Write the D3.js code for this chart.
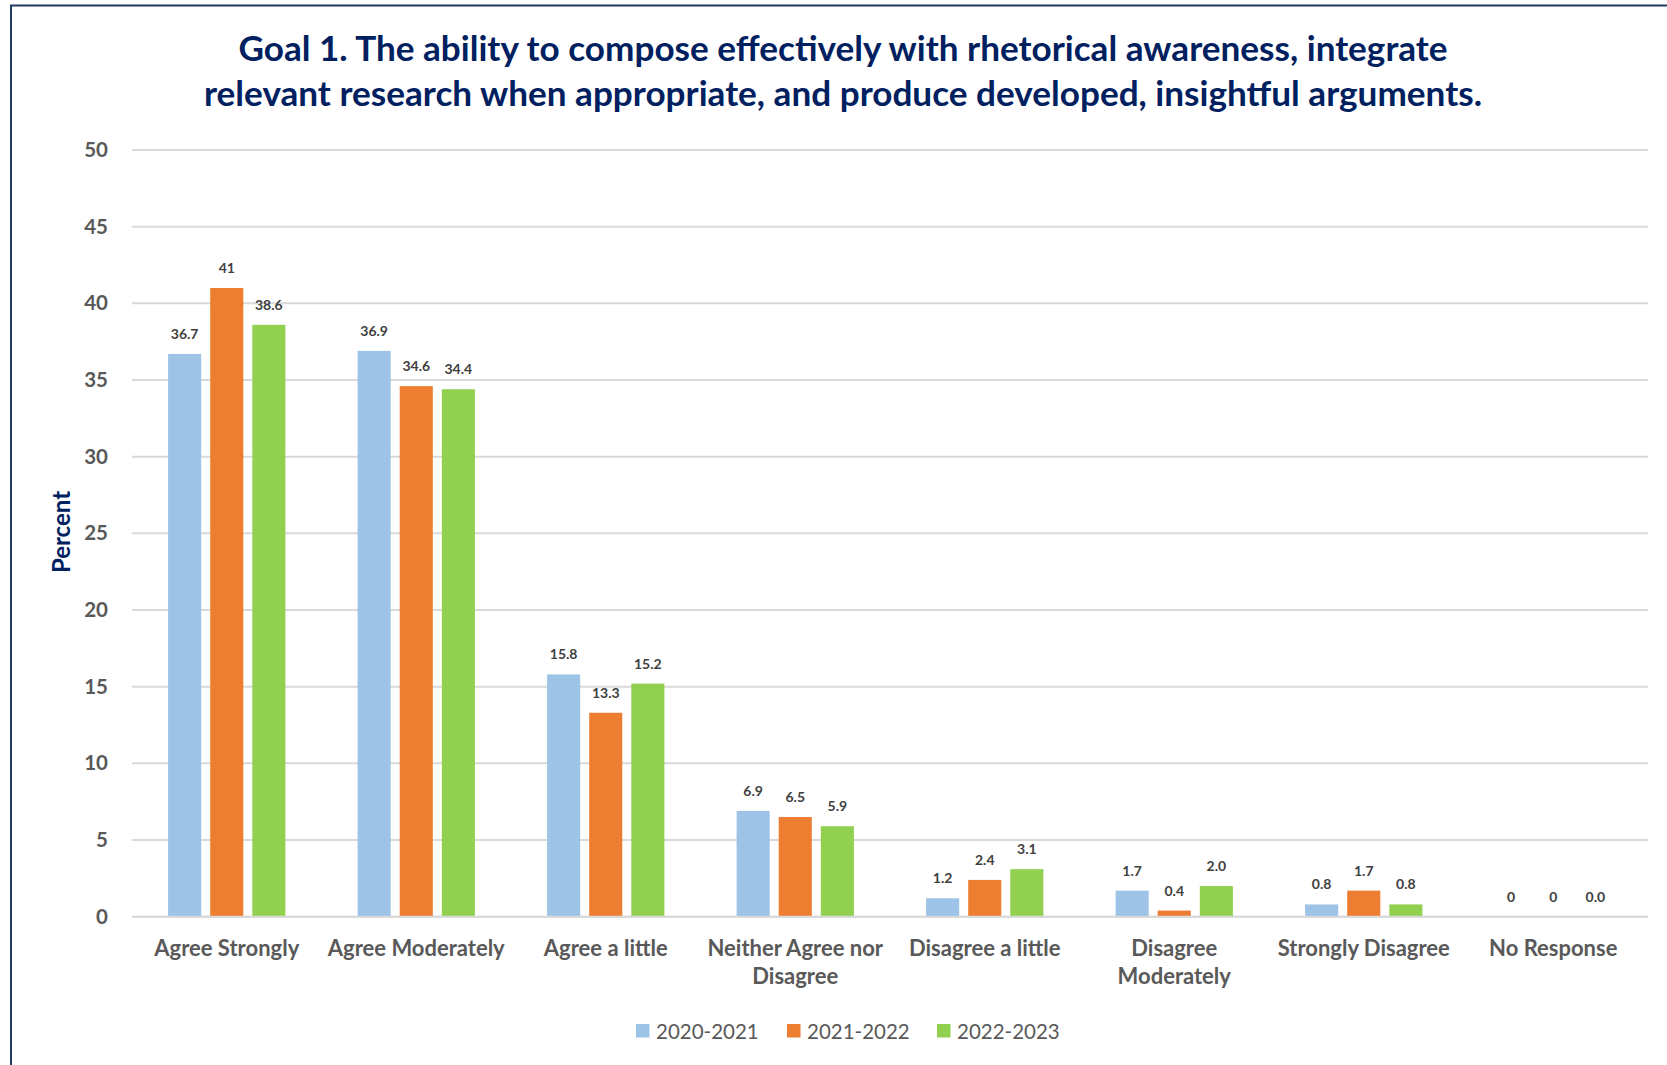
<!DOCTYPE html>
<html>
<head>
<meta charset="utf-8">
<script src="https://cdn.jsdelivr.net/npm/d3@7"></script>
<style>
  html, body { margin: 0; padding: 0; background: #fff; }
  svg { display: block; font-family: Lato, "Open Sans", sans-serif; }
</style>
</head>
<body>
<svg id="chart" width="1667" height="1065"></svg>
<script>
const categories = ["Agree Strongly", "Agree Moderately", "Agree a little", "Neither Agree nor Disagree",
  "Disagree a little", "Disagree Moderately", "Strongly Disagree", "No Response"];
const seriesNames = ["2020-2021", "2021-2022", "2022-2023"];
const values2020 = [36.7, 36.9, 15.8, 6.9, 1.2, 1.7, 0.8, 0];
const values2021 = [41, 34.6, 13.3, 6.5, 2.4, 0.4, 1.7, 0];
const values2022 = [38.6, 34.4, 15.2, 5.9, 3.1, 2.0, 0.8, 0.0];
const yTicks = [0, 5, 10, 15, 20, 25, 30, 35, 40, 45, 50];
const titleLines = ["Goal 1. The ability to compose effectively with rhetorical awareness, integrate",
  "relevant research when appropriate, and produce developed, insightful arguments."];
const yAxisTitle = "Percent";

const colors = ["#9DC3E6", "#ED7D31", "#92D050"];
const labelFormats = [d => String(d), d => String(d), d3.format(".1f")];
const seriesValues = [values2020, values2021, values2022];

const svg = d3.select("#chart");
const plot = { left: 132, right: 1648, top: 150, bottom: 916.7 };

const x0 = d3.scaleBand().domain(categories).range([plot.left, plot.right]).padding(0);
const bw = x0.bandwidth();
const groupW = 117.3;
const x1 = d3.scaleBand().domain(seriesNames).range([bw / 2 - groupW / 2, bw / 2 + groupW / 2])
  .paddingInner(0.214).paddingOuter(0);
const y = d3.scaleLinear().domain([0, 50]).range([plot.bottom, plot.top]);

// frame
svg.append("path")
  .attr("d", `M11,1065 L11,5.5 L1667,5.5`)
  .attr("fill", "none").attr("stroke", "#1F3864").attr("stroke-width", 2);

// gridlines
svg.append("g").selectAll("line").data(yTicks).join("line")
  .attr("x1", plot.left).attr("x2", plot.right)
  .attr("y1", d => y(d)).attr("y2", d => y(d))
  .attr("stroke", "#D9D9D9").attr("stroke-width", 2);

// y axis labels
const yAxis = d3.axisLeft(y).tickValues(yTicks).tickSize(0).tickPadding(24);
const yg = svg.append("g").attr("transform", `translate(${plot.left},0)`).call(yAxis);
yg.select(".domain").remove();
yg.selectAll("text").attr("fill", "#595959").style("font-size", "20.5px").style("font-weight", "bold")
  .style("font-family", "Lato, sans-serif");

// bars
const groups = svg.append("g").selectAll("g").data(categories).join("g")
  .attr("transform", d => `translate(${x0(d)},0)`);
const rows = (c, i) => seriesNames.map((s, k) => ({ s, k, v: seriesValues[k][i] }));
groups.each(function (c, i) {
  const g = d3.select(this);
  const data = rows(c, i);
  g.selectAll("rect").data(data).join("rect")
    .attr("x", d => x1(d.s)).attr("width", x1.bandwidth())
    .attr("y", d => y(d.v)).attr("height", d => y(0) - y(d.v))
    .attr("fill", d => colors[d.k]);
  g.selectAll("text").data(data).join("text")
    .attr("x", d => x1(d.s) + x1.bandwidth() / 2)
    .attr("y", d => y(d.v) - 15)
    .attr("text-anchor", "middle")
    .attr("fill", "#404040").style("font-size", "14px").style("font-weight", "bold")
    .text(d => labelFormats[d.k](d.v));
});

// baseline axis
svg.append("line").attr("x1", plot.left).attr("x2", plot.right)
  .attr("y1", y(0)).attr("y2", y(0)).attr("stroke", "#D9D9D9").attr("stroke-width", 2);

// category labels with wrapping
const catG = svg.append("g");
categories.forEach(c => {
  const t = catG.append("text")
    .attr("x", x0(c) + bw / 2).attr("y", 956)
    .attr("text-anchor", "middle").attr("fill", "#595959")
    .style("font-size", "22px").style("font-weight", "bold");
  const words = c.split(" ");
  let line = [];
  let tspan = t.append("tspan").attr("x", x0(c) + bw / 2).attr("dy", 0);
  words.forEach(w => {
    line.push(w);
    tspan.text(line.join(" "));
    if (tspan.node().getComputedTextLength() > bw - 4 && line.length > 1) {
      line.pop();
      tspan.text(line.join(" "));
      line = [w];
      tspan = t.append("tspan").attr("x", x0(c) + bw / 2).attr("dy", 28).text(w);
    }
  });
});

// y axis title
svg.append("text")
  .attr("transform", `translate(70,532) rotate(-90)`)
  .attr("text-anchor", "middle").attr("fill", "#002060")
  .style("font-size", "24px").style("font-weight", "bold")
  .text(yAxisTitle);

// title
const titleCx = 843;
const tg = svg.append("g");
const t1 = tg.append("text").attr("x", titleCx).attr("y", 61).attr("text-anchor", "middle")
  .attr("fill", "#002060").style("font-size", "31px").style("font-weight", "bold").text(titleLines[0]);
const t2 = tg.append("text").attr("x", titleCx).attr("y", 106).attr("text-anchor", "middle")
  .attr("fill", "#002060").style("font-size", "31px").style("font-weight", "bold").text(titleLines[1]);
const w1 = t1.node().getComputedTextLength(), w2 = t2.node().getComputedTextLength();
const fs = 31 * ((1205 / w1) + (1283 / w2)) / 2;
t1.style("font-size", fs + "px");
t2.style("font-size", fs + "px");

// legend
const legendX = [636, 787, 937];
const lg = svg.append("g");
seriesNames.forEach((s, k) => {
  lg.append("rect").attr("x", legendX[k]).attr("y", 1024).attr("width", 13.5).attr("height", 13.5)
    .attr("fill", colors[k]);
  lg.append("text").attr("x", legendX[k] + 20).attr("y", 1038.5).attr("fill", "#595959")
    .style("font-size", "20.5px").text(s);
});
</script>
</body>
</html>
